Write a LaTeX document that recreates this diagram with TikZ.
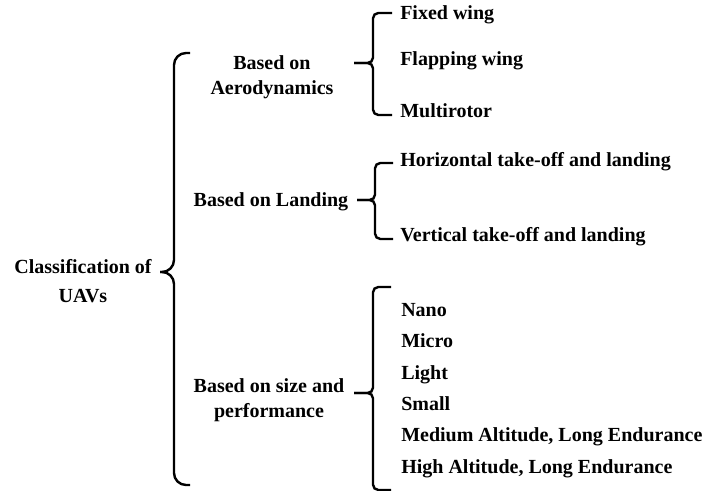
\documentclass[tikz,border=0pt]{standalone}
\usepackage{fontspec}
\setmainfont{Liberation Serif}
\tikzset{
  classlabel/.style={font=\bfseries\fontsize{15pt}{18.75pt}\selectfont, align=center, inner sep=0pt},
  rootlabel/.style={classlabel, font=\bfseries\fontsize{15pt}{21.5pt}\selectfont},
  leaf/.style={font=\bfseries\fontsize{15pt}{18pt}\selectfont, anchor=base west, inner sep=0pt},
  bracket/.style={black, line width=1.8pt, rounded corners=4pt},
  bigbracket/.style={bracket, rounded corners=9pt}
}
\begin{document}
\begin{tikzpicture}[x=0.75pt, y=-0.75pt]
  \useasboundingbox (0,0) rectangle (708,491);
  % classes
  \node[rootlabel] (uav) at (83,281) {Classification of\\UAVs};
  \node[classlabel] (aero) at (272,77) {Based on\\Aerodynamics};
  \node[classlabel, anchor=base] (landing) at (271,207) {Based on Landing};
  \node[classlabel] (size) at (269,400) {Based on size and\\performance};
  % leaves
  \node[leaf] (fixed) at (400,20) {Fixed wing};
  \node[leaf] (flapping) at (400,66) {Flapping wing};
  \node[leaf] (multi) at (400,118) {Multirotor};
  \node[leaf] (horiz) at (400,167) {Horizontal take-off and landing};
  \node[leaf] (vert) at (400,242) {Vertical take-off and landing};
  \node[leaf] (nano) at (401,317) {Nano};
  \node[leaf] (micro) at (401,348) {Micro};
  \node[leaf] (light) at (401,380) {Light};
  \node[leaf] (small) at (401,411) {Small};
  \node[leaf] (male) at (401,442) {Medium Altitude, Long Endurance};
  \node[leaf] (hale) at (401,474) {High Altitude, Long Endurance};
  % brace points
  \coordinate (uavTop) at (190,53);
  \coordinate (uavBot) at (190,485);
  \coordinate (uavSpine) at (174,272);
  \coordinate (uavTip) at (160,272);
  \coordinate (aeroTop) at (392,13);
  \coordinate (aeroBot) at (392,115);
  \coordinate (aeroSpine) at (373,63);
  \coordinate (aeroTip) at (354,63);
  \coordinate (landingTop) at (393,163);
  \coordinate (landingBot) at (393,239);
  \coordinate (landingSpine) at (375,200);
  \coordinate (landingTip) at (357,200);
  \coordinate (sizeTop) at (391,287);
  \coordinate (sizeBot) at (391,490);
  \coordinate (sizeSpine) at (373,393);
  \coordinate (sizeTip) at (354,393);
  % braces
  \draw[bigbracket] (uavTop) -| (uavSpine) -- (uavTip);
  \draw[bigbracket] (uavBot) -| (uavSpine) -- (uavTip);
  \foreach \b in {aero,landing,size}{
    \draw[bracket] (\b Top) -| (\b Spine) -- (\b Tip);
    \draw[bracket] (\b Bot) -| (\b Spine) -- (\b Tip);
  }
\end{tikzpicture}
\end{document}
